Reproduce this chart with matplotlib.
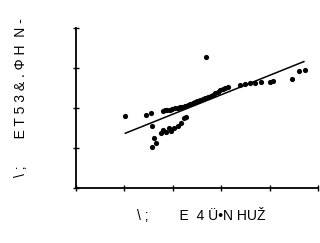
import matplotlib
matplotlib.use("Agg")
import matplotlib.pyplot as plt

# upper band of points
x_upper = [1.02, 1.44, 1.54, 1.79, 1.89, 1.99, 2.10, 2.20, 2.31, 2.41, 2.51, 2.62, 2.72, 2.83,
           2.93, 3.03, 3.14, 3.38, 3.49, 3.59, 3.69, 3.83, 4.01, 4.08, 4.46, 4.60, 4.74,
           1.84, 1.94, 2.05, 2.15, 2.26, 2.36, 2.46, 2.57, 2.67, 2.78, 2.88, 2.98, 3.08]
y_upper = [1.80, 1.83, 1.87, 1.93, 1.95, 1.97, 2.01, 2.03, 2.08, 2.12, 2.18, 2.22, 2.27, 2.33,
           2.41, 2.47, 2.52, 2.58, 2.60, 2.62, 2.63, 2.66, 2.66, 2.67, 2.72, 2.93, 2.95,
           1.94, 1.96, 1.99, 2.02, 2.06, 2.10, 2.15, 2.20, 2.25, 2.30, 2.37, 2.44, 2.50]
# lower cluster
x_lower = [1.58, 1.75, 1.85, 1.96, 2.03, 2.10, 2.17, 2.24, 2.27, 1.61, 1.58, 1.65, 1.80, 1.92]
y_lower = [1.55, 1.37, 1.41, 1.43, 1.49, 1.55, 1.63, 1.74, 1.78, 1.24, 1.03, 1.12, 1.45, 1.50]
# outlier
x_out = [2.69]
y_out = [3.27]
# fitted line ends
fit_x = [1.02, 4.71]
fit_y = [1.37, 3.16]

fig = plt.figure(figsize=(3.2, 2.43), dpi=100)
ax = fig.add_axes([0.2375, 0.226, 0.756, 0.659])

ax.scatter(x_upper + x_lower + x_out, y_upper + y_lower + y_out, s=14, color="black", linewidths=0)
ax.plot(fit_x, fit_y, color="black", lw=1.1)

ax.set_xlim(0, 5)
ax.set_ylim(0, 4)
ax.set_xticks([0, 1, 2, 3, 4, 5])
ax.set_yticks([0, 1, 2, 3, 4])
ax.set_xticklabels([])
ax.set_yticklabels([])
ax.tick_params(direction="inout", length=4, width=1)
ax.spines["top"].set_visible(False)
ax.spines["right"].set_visible(False)
ax.spines["left"].set_linewidth(1.3)
ax.spines["bottom"].set_linewidth(1.3)

fig.text(0.63, 0.112, "\\ ;        E  4 Ü•N HUŽ", ha="center", va="center",
         fontsize=10, family=["Liberation Sans", "DejaVu Sans"])
fig.text(0.065, 0.60, "\\ ;       E T 5 3 & . Φ H  N -", ha="center", va="center",
         rotation=90, fontsize=10, family=["Liberation Sans", "DejaVu Sans"])

fig.savefig("out.png", dpi=100)
